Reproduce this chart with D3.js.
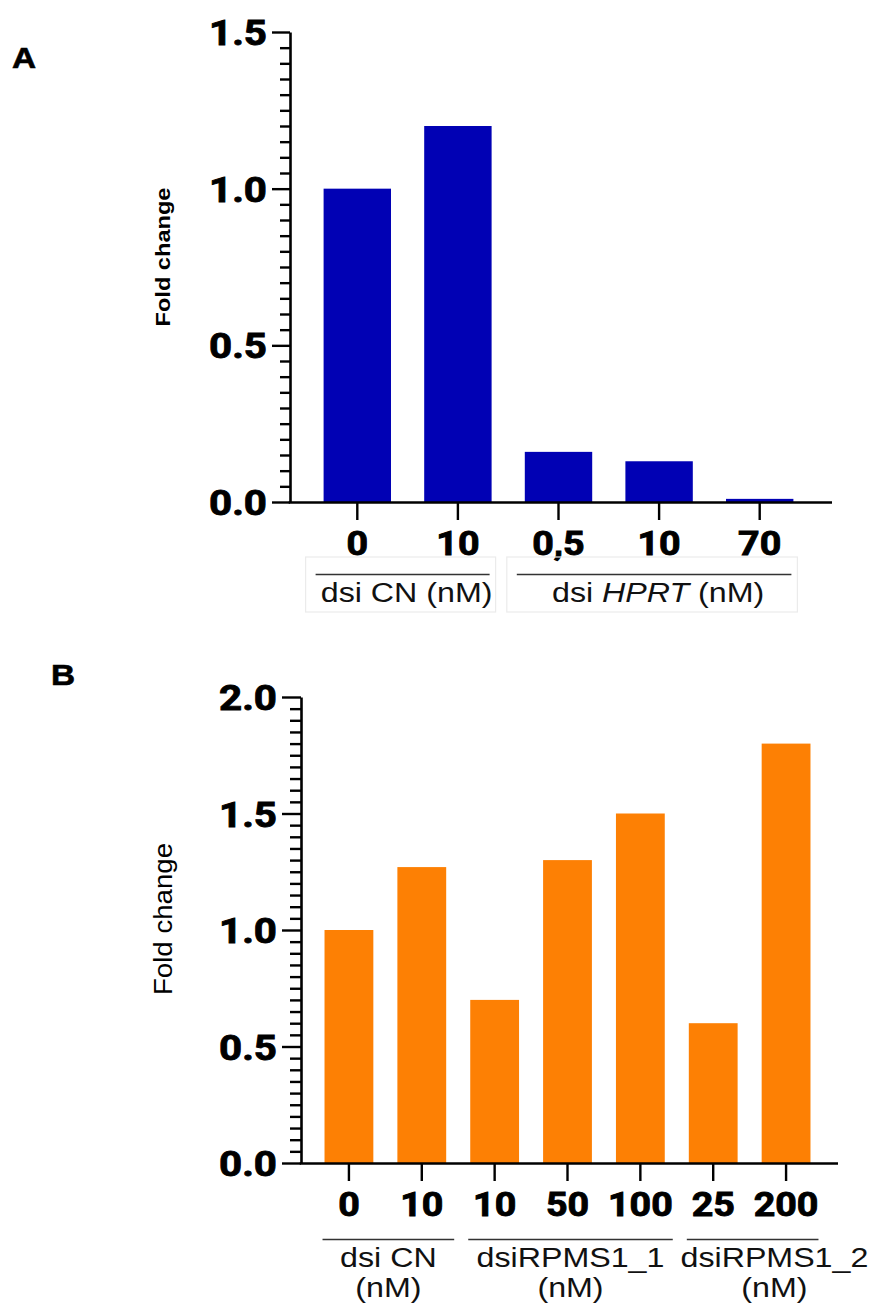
<!doctype html>
<html lang="en">
<head>
    <meta charset="UTF-8">
    <title>Fold change bars</title>
    <script src="https://cdn.jsdelivr.net/npm/d3@7"></script>
    <style>
        body { margin: 0; background: #fff; }
        svg { display: block; }
    </style>
</head>
<body>
<svg width="881" height="1303"></svg>
<script>

    // ---- data ----
    const catsA = ["0", "10", "0,5", "10", "70"];
    const valuesA = [1.0, 1.2, 0.16, 0.13, 0.01];
    const ticksA = [0, 0.5, 1.0, 1.5];
    const groupsA = [
        {first: 0, last: 1, parts: [["dsi CN (nM)", false]]},
        {first: 2, last: 4, parts: [["dsi ", false], ["HPRT", true], [" (nM)", false]]}
    ];

    const catsB = ["0", "10", "10", "50", "100", "25", "200"];
    const valuesB = [1.0, 1.27, 0.70, 1.30, 1.50, 0.60, 1.80];
    const ticksB = [0, 0.5, 1.0, 1.5, 2.0];
    const groupsB = [
        {first: 0, last: 1, lines: ["dsi CN", "(nM)"]},
        {first: 2, last: 4, lines: ["dsiRPMS1_1", "(nM)"]},
        {first: 5, last: 6, lines: ["dsiRPMS1_2", "(nM)"]}
    ];

    const FONT = "'Liberation Sans', Arial, Helvetica, sans-serif";
    const NUMFONT = "Roboto, 'Liberation Sans', Arial, sans-serif";
    const SX = 1.15;   // the figure is a bit stretched sideways
    let svg = d3.select("svg");

    function boldNum(sel, size) {
        sel.style("font-family", NUMFONT).style("font-size", size + "px").style("font-weight", "bold")
            .attr("fill", "#000").attr("stroke", "#000").attr("stroke-width", 0.9);
    }

    function drawPanel(cfg) {
        let g = svg.append("g");
        let y = d3.scaleLinear().domain([0, cfg.yMax]).range([cfg.baseline, cfg.top]);
        let x = d3.scaleBand().domain(d3.range(cfg.cats.length))
            .range([cfg.x0, cfg.x1]).paddingInner(0.33).paddingOuter(0.165);

        g.selectAll(".bar").data(cfg.values).enter().append("rect")
            .attr("class", "bar")
            .attr("x", (d, i) => x(i))
            .attr("y", d => y(d))
            .attr("width", x.bandwidth())
            .attr("height", d => cfg.baseline - y(d))
            .attr("fill", cfg.color);

        // minor ticks every 0.05
        let minor = d3.range(0, cfg.yMax + 1e-6, 0.05)
            .filter(v => !cfg.ticks.some(m => Math.abs(m - v) < 1e-6));
        g.append("g")
            .attr("transform", "translate(" + cfg.axisX + ",0)")
            .call(d3.axisLeft(y).tickValues(minor).tickSize(cfg.minorLen).tickFormat(""))
            .call(a => a.select(".domain").remove())
            .selectAll("line").attr("stroke-width", 2.4);

        let ya = g.append("g")
            .attr("transform", "translate(" + cfg.axisX + ",0)")
            .call(d3.axisLeft(y).tickValues(cfg.ticks).tickSize(cfg.majorLen).tickSizeOuter(0)
                .tickFormat(d3.format(".1f")));
        ya.select(".domain").attr("stroke-width", 2.6);
        ya.selectAll("line").attr("stroke-width", 2.4);
        ya.selectAll("text")
            .attr("x", 0)
            .attr("dy", "0.35em")
            .attr("transform", "translate(" + (-(cfg.majorLen + 5)) + ",0) scale(1.12,1)")
            .call(boldNum, 36);

        // x axis
        let xa = g.append("g")
            .attr("transform", "translate(0," + cfg.baseline + ")")
            .call(d3.axisBottom(x).tickSize(18).tickPadding(12).tickFormat(i => cfg.cats[i]));
        xa.select(".domain").remove();
        xa.selectAll("line").attr("stroke-width", 2.4);
        xa.selectAll("text")
            .attr("transform", "scale(1.14,1)")
            .call(boldNum, 33);
        g.append("line")
            .attr("x1", cfg.axisX - 1.3).attr("x2", cfg.axisEnd)
            .attr("y1", cfg.baseline + 0.5).attr("y2", cfg.baseline + 0.5)
            .attr("stroke", "#000").attr("stroke-width", 2.6);

        // panel letter
        g.append("text")
            .attr("transform", "translate(" + cfg.letterX + "," + cfg.letterY + ") scale(" + SX + ",1)")
            .style("font-family", FONT).style("font-size", "29px").style("font-weight", "bold")
            .attr("stroke", "#000").attr("stroke-width", 0.6)
            .text(cfg.letter);

        // y title
        g.append("text")
            .attr("transform", "translate(" + cfg.titleX + "," + cfg.titleY + ") rotate(-90)")
            .attr("text-anchor", "middle")
            .attr("textLength", cfg.titleLen).attr("lengthAdjust", "spacingAndGlyphs")
            .style("font-family", FONT).style("font-size", cfg.titleSize + "px")
            .style("font-weight", cfg.titleWeight)
            .text("Fold change");

        return {g: g, x: x, y: y};
    }

    // ---- panel A ----
    let pA = drawPanel({
        cats: catsA, values: valuesA, ticks: ticksA, yMax: 1.5, color: "#0101b4",
        top: 32, baseline: 502, x0: 307, x1: 810, axisX: 290, axisEnd: 832,
        majorLen: 18, minorLen: 10,
        letter: "A", letterX: 12, letterY: 68,
        titleX: 170, titleY: 257, titleLen: 139, titleSize: 20, titleWeight: "bold"
    });
    groupsA.forEach(grp => {
        let xs = pA.x(grp.first) - 8, xe = pA.x(grp.last) + pA.x.bandwidth() - 2;
        pA.g.append("rect")
            .attr("x", xs - 10).attr("y", 557).attr("width", xe - xs + 16).attr("height", 55)
            .attr("fill", "none").attr("stroke", "#ebebeb").attr("stroke-width", 1.2);
        pA.g.append("line")
            .attr("x1", xs).attr("x2", xe).attr("y1", 574.5).attr("y2", 574.5)
            .attr("stroke", "#333").attr("stroke-width", 1.5);
        let t = pA.g.append("text")
            .attr("transform", "translate(" + ((xs + xe) / 2 + 4) + ",602) scale(" + SX + ",1)")
            .attr("text-anchor", "middle")
            .style("font-family", FONT).style("font-size", "28px").attr("fill", "#111");
        grp.parts.forEach(p => {
            t.append("tspan").style("font-style", p[1] ? "italic" : "normal").text(p[0]);
        });
    });

    // ---- panel B ----
    let pB = drawPanel({
        cats: catsB, values: valuesB, ticks: ticksB, yMax: 2.0, color: "#fd8004",
        top: 697, baseline: 1163, x0: 312.5, x1: 822.5, axisX: 301, axisEnd: 838,
        majorLen: 19, minorLen: 11,
        letter: "B", letterX: 51, letterY: 685,
        titleX: 172, titleY: 919, titleLen: 152, titleSize: 26, titleWeight: "normal"
    });
    let prevRight = -Infinity;
    groupsB.forEach(grp => {
        let xs = pB.x(grp.first) - 2, xe = pB.x(grp.last) + pB.x.bandwidth() + 8;
        pB.g.append("line")
            .attr("x1", xs).attr("x2", xe).attr("y1", 1239.5).attr("y2", 1239.5)
            .attr("stroke", "#333").attr("stroke-width", 1.5);
        let cx = (xs + xe) / 2;
        // width of the longest line, to keep labels from running into each other
        let probe = pB.g.append("text").style("font-family", FONT).style("font-size", "28px").text(grp.lines[0]);
        let w = probe.node().getComputedTextLength() * SX;
        probe.remove();
        if (cx - w / 2 < prevRight + 16) cx = prevRight + 16 + w / 2;
        prevRight = cx + w / 2;
        grp.lines.forEach((ln, k) => {
            pB.g.append("text")
                .attr("transform", "translate(" + cx + "," + (1267 + k * 30) + ") scale(" + SX + ",1)")
                .attr("text-anchor", "middle")
                .style("font-family", FONT).style("font-size", "28px").attr("fill", "#111")
                .text(ln);
        });
    });

</script>
</body>
</html>
